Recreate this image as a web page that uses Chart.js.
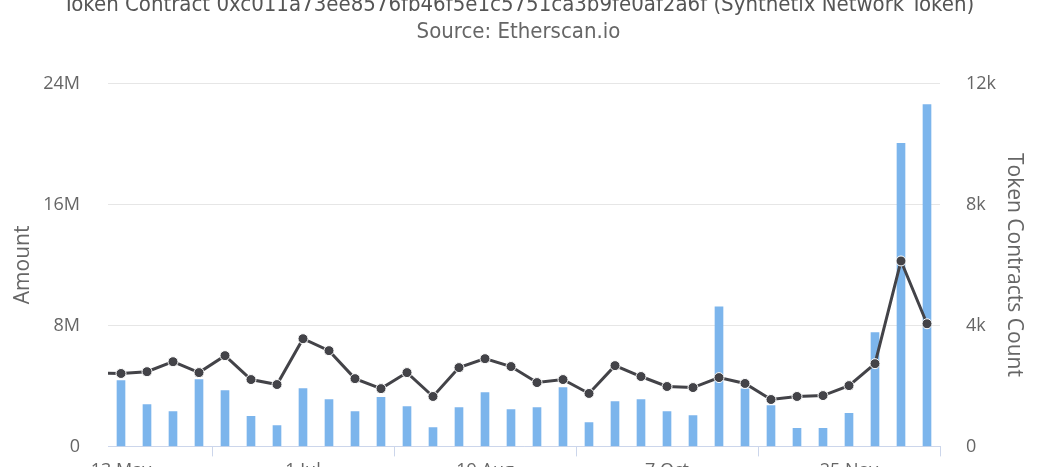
<!DOCTYPE html>
<html>
<head>
<meta charset="utf-8">
<title>Synthetix Network Token</title>
<script src="https://cdn.jsdelivr.net/npm/chart.js@4/dist/chart.umd.min.js"></script>
<style>
  html, body { margin: 0; padding: 0; background: #fff; overflow: hidden; }
  #wrap { position: absolute; left: 0; top: -22px; width: 1061px; height: 508px; }
</style>
</head>
<body>
<div id="wrap"><canvas id="tokenChart"></canvas></div>
<script>
// ---------------------------------------------
// Data (weekly)
// ---------------------------------------------
const weekLabels = [
    "6 May", "13 May", "20 May", "27 May", "3 Jun", "10 Jun", "17 Jun", "24 Jun",
    "1 Jul", "8 Jul", "15 Jul", "22 Jul", "29 Jul", "5 Aug", "12 Aug", "19 Aug",
    "26 Aug", "2 Sep", "9 Sep", "16 Sep", "23 Sep", "30 Sep", "7 Oct", "14 Oct",
    "21 Oct", "28 Oct", "4 Nov", "11 Nov", "18 Nov", "25 Nov", "2 Dec", "9 Dec", "16 Dec"
];

const amountValues = [
    null, 4350000, 2770000, 2310000, 4420000, 3690000, 1980000, 1380000,
    3820000, 3100000, 2310000, 3250000, 2640000, 1250000, 2570000, 3560000,
    2440000, 2570000, 3890000, 1580000, 2970000, 3100000, 2310000, 2040000,
    9230000, 3800000, 2700000, 1190000, 1190000, 2180000, 7520000, 20040000, 22600000
];

const contractCounts = [
    2430, 2410, 2470, 2800, 2440, 3000, 2210, 2045,
    3560, 3165, 2240, 1910, 2440, 1650, 2605, 2900,
    2640, 2110, 2210, 1750, 2670, 2310, 1980, 1945,
    2275, 2080, 1550, 1650, 1680, 2010, 2735, 6130, 4055
];

const amountTicks = ["0", "8M", "16M", "24M"];
const countTicks  = ["0", "4k", "8k", "12k"];

const textGrey = "#666666";
const narrowFont = "'Liberation Sans Narrow', 'DejaVu Sans Condensed', sans-serif";
const tickFont = "'Open Sans', sans-serif";

new Chart(document.getElementById("tokenChart"), {
    data: {
        labels: weekLabels,
        datasets: [
            {
                type: "line",
                label: "Token Contracts Count",
                data: contractCounts,
                yAxisID: "yCount",
                borderColor: "#434348",
                borderWidth: 3,
                pointBackgroundColor: "#434348",
                pointBorderColor: "#ffffff",
                pointBorderWidth: 1,
                pointRadius: 5,
                tension: 0,
                order: 0
            },
            {
                type: "bar",
                label: "Amount",
                data: amountValues,
                yAxisID: "yAmount",
                backgroundColor: "#7cb5ec",
                barThickness: 8,
                order: 1
            }
        ]
    },
    options: {
        responsive: true,
        maintainAspectRatio: false,
        animation: false,
        layout: { padding: { left: 10, right: 34, top: 0, bottom: 0 } },
        plugins: {
            legend: { display: false },
            tooltip: { enabled: false },
            title: {
                display: true,
                text: "Token Contract 0xc011a73ee8576fb46f5e1c5751ca3b9fe0af2a6f (Synthetix Network Token)",
                color: "#555555",
                font: { family: narrowFont, size: 22, weight: "normal" },
                padding: { top: 14, bottom: 0 }
            },
            subtitle: {
                display: true,
                text: "Source: Etherscan.io",
                color: textGrey,
                font: { family: narrowFont, size: 22, weight: "normal" },
                padding: { top: 1, bottom: 37.6 }
            }
        },
        scales: {
            x: {
                type: "category",
                min: weekLabels[1],
                offset: true,
                grid: { display: true, drawOnChartArea: false, drawTicks: true, tickLength: 10, color: "#ccd6eb" },
                border: { display: true, color: "#ccd6eb" },
                ticks: {
                    autoSkip: false,
                    maxRotation: 0,
                    color: textGrey,
                    padding: 4,
                    font: { family: tickFont, size: 18 },
                    // label every 7th week, starting at the first visible one
                    callback: function (value) {
                        return (value - 1) % 7 === 0 ? weekLabels[value] : null;
                    }
                }
            },
            yAmount: {
                position: "left",
                min: 0,
                max: 24000000,
                grid: { color: "#e6e6e6", drawTicks: false },
                border: { display: false },
                ticks: {
                    stepSize: 8000000,
                    padding: 28,
                    color: textGrey,
                    font: { family: tickFont, size: 18 },
                    callback: (v, i) => amountTicks[i]
                },
                title: {
                    display: true,
                    text: "Amount",
                    color: textGrey,
                    font: { family: tickFont, size: 21 },
                    padding: { top: 0, bottom: 0 }
                },
                afterFit: scale => { scale.width = 98; }
            },
            yCount: {
                position: "right",
                min: 0,
                max: 12000,
                grid: { drawOnChartArea: false, drawTicks: false },
                border: { display: false },
                ticks: {
                    stepSize: 4000,
                    padding: 26,
                    color: textGrey,
                    font: { family: tickFont, size: 18 },
                    callback: (v, i) => countTicks[i]
                },
                title: {
                    display: true,
                    text: "Token Contracts Count",
                    color: textGrey,
                    font: { family: tickFont, size: 21 },
                    padding: { top: 0, bottom: 0 }
                },
                afterFit: scale => { scale.width = 87; }
            }
        }
    }
});
</script>
</body>
</html>
